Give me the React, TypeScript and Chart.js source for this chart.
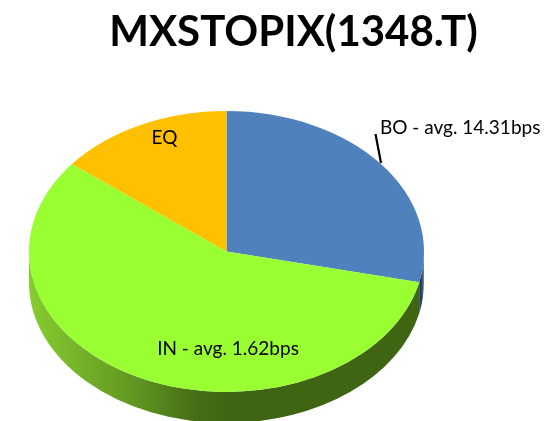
import React, { useEffect, useRef } from "react";
import { Chart, registerables } from "chart.js";

Chart.register(...registerables);

const chartTitle = "MXSTOPIX(1348.T)";
const categories = ["BO", "IN", "EQ"];
const shares = [28.5, 57.2, 14.3];
const sliceColors = ["#4F81BD", "#99FF33", "#FFC000"];
const sliceLabels = ["BO - avg. 14.31bps", "IN - avg. 1.62bps", "EQ"];

const CENTER_X = 226.5;
const CENTER_Y = 251.5;
const RADIUS = 197.5;
const SQUASH = 0.711;
const DEPTH = 31;
const LABEL_FONT = '19px Lato, "Noto Sans", sans-serif';

const wallFill = (ctx: CanvasRenderingContext2D, index: number) => {
  const left = CENTER_X - RADIUS;
  const right = CENTER_X + RADIUS;
  const g = ctx.createLinearGradient(left, 0, right, 0);
  if (index === 0) {
    g.addColorStop(0, "#1F3A5C");
    g.addColorStop(0.993, "#1F3A5C");
    g.addColorStop(1, "#6F8FB6");
    return g;
  }
  g.addColorStop(0, "#86CC2E");
  g.addColorStop(0.12, "#76B42A");
  g.addColorStop(0.28, "#5F9420");
  g.addColorStop(0.42, "#466E16");
  g.addColorStop(0.5, "#3F6412");
  g.addColorStop(1, "#3F6412");
  return g;
};

const pie3d = {
  id: "pie3d",
  beforeDatasetsDraw(chart: any) {
    const { ctx } = chart;
    const arcs = chart.getDatasetMeta(0).data;
    arcs.forEach((arc: any, i: number) => {
      const a1 = Math.max(arc.startAngle, 0);
      const a2 = Math.min(arc.endAngle, Math.PI);
      if (a2 <= a1) return;
      const ry = RADIUS * SQUASH;
      ctx.save();
      ctx.beginPath();
      ctx.ellipse(CENTER_X, CENTER_Y, RADIUS, ry, 0, a1, a2);
      ctx.ellipse(CENTER_X, CENTER_Y + DEPTH, RADIUS, ry, 0, a2, a1, true);
      ctx.closePath();
      ctx.fillStyle = wallFill(ctx, i);
      ctx.fill();
      ctx.restore();
    });
    const { x, y } = arcs[0];
    ctx.save();
    ctx.translate(CENTER_X, CENTER_Y);
    ctx.scale(1, SQUASH);
    ctx.translate(-x, -y);
  },
  afterDatasetsDraw(chart: any) {
    const { ctx } = chart;
    ctx.restore();
    ctx.save();
    ctx.strokeStyle = "#000000";
    ctx.lineWidth = 2.2;
    ctx.beginPath();
    ctx.moveTo(375.5, 134);
    ctx.lineTo(381, 163);
    ctx.stroke();
    ctx.fillStyle = "#000000";
    ctx.font = LABEL_FONT;
    ctx.textBaseline = "middle";
    ctx.textAlign = "left";
    ctx.fillText(sliceLabels[0], 380, 128);
    ctx.textAlign = "center";
    ctx.fillText(sliceLabels[1], 228, 349);
    ctx.fillText(sliceLabels[2], 164.5, 138);
    ctx.restore();
  },
};

export default function App() {
  const ref = useRef<HTMLCanvasElement>(null);
  useEffect(() => {
    document.body.style.margin = "0";
    const chart = new Chart(ref.current!, {
      type: "pie",
      data: {
        labels: categories,
        datasets: [
          {
            data: shares,
            backgroundColor: sliceColors,
            borderWidth: 0,
            clip: false,
          } as any,
        ],
      },
      options: {
        responsive: false,
        animation: false,
        radius: RADIUS,
        layout: { padding: { left: 36, right: 0, top: 0, bottom: 0 } },
        plugins: {
          legend: { display: false },
          tooltip: { enabled: false },
          title: {
            display: true,
            text: chartTitle,
            color: "#000000",
            font: { family: 'Lato, "Noto Sans", sans-serif', size: 42, weight: "bold" },
            padding: { top: 7, bottom: 10 },
          },
        },
      } as any,
      plugins: [pie3d],
    });
    return () => chart.destroy();
  }, []);
  return <canvas ref={ref} width={551} height={421} style={{ display: "block" }} />;
}
